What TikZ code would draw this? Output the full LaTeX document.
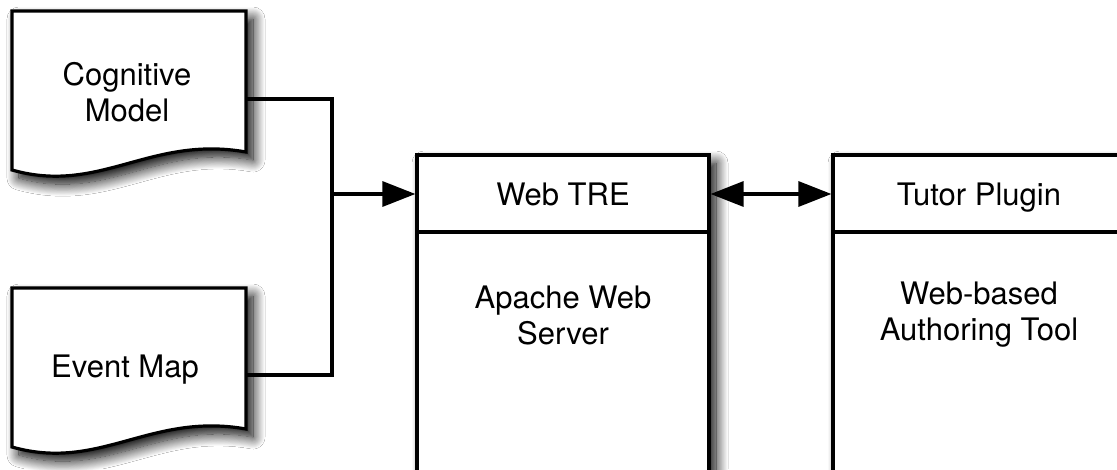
\documentclass[tikz,border=0pt]{standalone}
\usepackage{fontspec}
\setmainfont{TeX Gyre Heros}
\usetikzlibrary{arrows.meta,shadows.blur}
\begin{document}
\begin{tikzpicture}[x=1pt,y=-1pt,
  lw/.style={line width=3.2pt},
  shad/.style={blur shadow={shadow xshift=7pt,shadow yshift=-8pt,shadow blur radius=12pt,shadow opacity=100,shadow blur steps=14}},
  docshape/.style={lw,draw=black,fill=white,shad,line join=miter},
  boxshape/.style={lw,draw=black,fill=white,shad,minimum width=292pt,minimum height=330pt,inner sep=0pt},
  lbl/.style={font=\fontsize{31}{36}\selectfont,align=center,inner sep=0pt,text=black},
  tip/.style={-{Triangle[length=33pt,width=25pt,fill=black]}},
  dtip/.style={{Triangle[length=33pt,width=25pt,fill=black]}-{Triangle[length=33pt,width=25pt,fill=black]}}]
\useasboundingbox (0,0) rectangle (1117,469);
\clip (0,0) rectangle (1117,469);
\fill[white] (0,0) rectangle (1117,469);
% documents
\path[docshape] (12,11) -- (246,11) -- (246,152) .. controls (150,135) and (100,195) .. (12,170) -- cycle;
\path[docshape] (12,288) -- (246,288) -- (246,429) .. controls (150,412) and (100,472) .. (12,447) -- cycle;
\node[lbl] (cog) at (127,92) {Cognitive\\Model};
\node[lbl] (ev) at (125,370) {Event Map};
\coordinate (cogout) at (246,99);
\coordinate (evout) at (246,375);
\coordinate (jtop) at (332,99);
\coordinate (jbot) at (332,375);
\coordinate (j) at (332,194);
% boxes
\node[boxshape] (web) at (563,320) {};
\node[boxshape] (tut) at (979,320) {};
\draw[lw] (417,232) -- (709,232);
\draw[lw] (833,232) -- (1125,232);
\node[lbl,anchor=base] (webhead) at (563,205) {Web TRE};
\node[lbl] (webbody) at (563,315) {Apache Web\\Server};
\node[lbl,anchor=base] (tuthead) at (979,205) {Tutor Plugin};
\node[lbl] (tutbody) at (979,315) {Web-based\\Authoring Tool};
% connectors
\draw[lw,line join=miter] (cogout) -- (jtop) -- (jbot) -- (evout);
\draw[lw,draw=black,fill=black,tip] (j) -- (web.west |- j);
\draw[lw,draw=black,fill=black,dtip] (web.east |- j) -- (tut.west |- j);
\end{tikzpicture}
\end{document}
